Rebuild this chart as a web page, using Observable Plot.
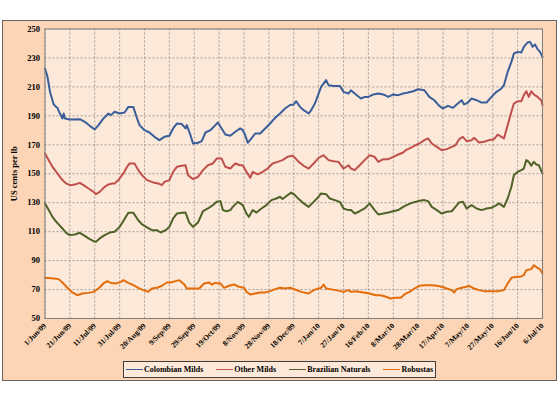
<!DOCTYPE html>
<html>
<head>
<meta charset="utf-8">
<script src="https://cdn.jsdelivr.net/npm/d3@7"></script>
<script src="https://cdn.jsdelivr.net/npm/@observablehq/plot@0.6"></script>
<style>
  html, body { margin: 0; padding: 0; background: #fff; }
  #wrap { position: relative; width: 560px; height: 400px; overflow: hidden; font-family: "Liberation Serif", "Times New Roman", serif; }
  #outer { position: absolute; left: 2px; top: 20px; width: 553px; height: 359px; background: #FBD5B5; border: 1.5px solid #6b6360; }
  #chart { position: absolute; left: 0; top: 0; }
  #legend { position: absolute; left: 123px; top: 361px; width: 311px; height: 15px; border: 1.2px solid #3f3f3f; background: #FDE9D9;
            display: flex; align-items: center; justify-content: center; gap: 13px; font-weight: bold; font-size: 8px; }
  .item { display: flex; align-items: center; white-space: nowrap; }
  .swatch { display: inline-block; width: 17px; height: 1.2px; margin-right: 1px; }
</style>
</head>
<body>
<div id="wrap">
  <div id="outer"></div>
  <div id="chart"></div>
  <div id="legend"></div>
</div>
<script>
// Day offsets from 1 Jun 2009, value in US cents per lb
const seriesNames = ["Colombian Milds", "Other Milds", "Brazilian Naturals", "Robustas"];
const seriesColors = ["#3A5E99", "#C0504D", "#4F6228", "#E46C0A"];

const colombianMilds = [[0,222.7],[2,217],[4,206.6],[7,197.8],[10,195.5],[12,191.6],[14,188.2],[15,191.6],[16,188.2],[20,187.5],[28,187.7],[32,185.9],[36,183.1],[40,180.6],[43,183.6],[47,188.2],[51,191.6],[53,190.5],[56,192.8],[60,191.6],[64,192.3],[67,196.2],[71,196.2],[74,188.2],[76,183.6],[80,180.1],[84,178.5],[88,175.5],[92,173.2],[96,175.5],[100,176.2],[103,181.3],[106,184.7],[110,184.3],[113,181.3],[114,183.6],[117,176.6],[119,170.9],[123,171.4],[126,172.5],[129,178.5],[133,180.1],[137,183.6],[139,185.4],[142,181.3],[145,177.1],[149,176.2],[153,179],[157,181.3],[159,180.1],[161,176.6],[163,171.4],[166,174.4],[169,177.8],[173,177.8],[177,181.3],[181,184.7],[185,188.6],[189,191.6],[193,195.1],[197,197.5],[200,197.9],[202,200.1],[205,196.2],[208,193.9],[212,191.6],[214,193.9],[217,198.5],[220,205.4],[222,210],[226,214.7],[228,211.2],[232,210.7],[237,210.7],[240,206.6],[244,205.4],[246,207.7],[249,205.4],[254,202],[257,203.1],[260,203.1],[264,204.8],[268,205.4],[272,204.8],[276,203.1],[280,204.8],[284,204.3],[288,205.4],[292,206.1],[296,207],[300,208.4],[305,207.7],[309,203.1],[313,200.8],[317,196.9],[320,195.1],[324,196.9],[328,195.5],[331,197.9],[335,200.8],[337,197.9],[340,199.2],[343,202],[347,200.8],[351,199.2],[355,199.2],[359,203.1],[363,206.6],[367,208.9],[369,211.2],[372,220.4],[375,227.3],[377,233.1],[380,234.2],[383,233.8],[385,237.7],[388,240.7],[390,241.1],[392,237.7],[394,239.3],[396,236.1],[398,234.2],[400,230.8]];

const otherMilds = [[0,164],[3,159.4],[6,154.8],[8,152.5],[11,149],[14,145.6],[17,143.3],[20,142.1],[24,142.6],[28,143.7],[31,142.1],[35,139.8],[39,137.5],[41,135.9],[44,137.5],[48,141],[51,142.6],[54,143.3],[56,143.3],[59,145.6],[63,150.2],[66,154.8],[68,157.1],[72,157.1],[75,152.5],[78,149],[82,145.6],[87,144],[91,143.3],[94,142.1],[96,144.4],[100,145.6],[103,151.3],[106,154.8],[110,155.5],[113,155.9],[115,149],[119,146.3],[123,147.9],[127,152.5],[131,155.9],[135,157.1],[138,160.5],[142,160.5],[145,154.8],[149,153.6],[153,157.1],[157,155.9],[159,155.9],[162,151.3],[165,147.2],[167,151.3],[171,149.5],[175,151.3],[179,153.6],[183,157.1],[187,158.2],[191,159.4],[195,161.7],[199,162.4],[201,161],[204,158.2],[208,155.5],[212,153.6],[216,157.1],[220,161],[224,162.8],[228,159.4],[232,158.7],[236,158.2],[240,153.6],[244,155.9],[246,153.6],[249,152.5],[253,155.9],[257,159.4],[261,162.8],[265,161.7],[268,158.2],[272,160.1],[276,160.1],[280,161.7],[284,163.3],[288,164.7],[290,166.3],[294,167.9],[298,169.7],[301,170.9],[305,173.2],[308,174.4],[311,170.9],[315,168.6],[319,166.3],[323,167],[327,168.6],[330,169.7],[333,173.9],[336,175.5],[339,172.5],[343,173.2],[345,174.8],[349,171.6],[353,172.1],[357,173.2],[361,173.9],[364,177.1],[367,175.5],[369,174.4],[372,183.6],[375,192.8],[377,198.5],[380,200.1],[383,200.1],[385,204.3],[387,207],[389,203.1],[391,207],[393,204.8],[396,203.1],[399,200.8],[400,197.4]];

const brazilianNaturals = [[0,129.5],[3,124.9],[6,120.2],[8,117.9],[11,115],[14,112.2],[17,109.2],[20,107.6],[24,108],[28,109.2],[31,107.6],[35,105.3],[39,103.4],[41,103],[44,105.3],[48,107.6],[52,109.4],[56,109.9],[60,113.3],[63,117.3],[67,123],[71,123],[75,117.9],[78,115],[82,112.9],[86,111],[90,111],[93,109.4],[97,111],[100,113.3],[103,119.1],[106,122.5],[110,123],[113,123.2],[116,116.3],[119,113.3],[123,116.3],[127,124.1],[131,126],[135,128.3],[138,130.6],[141,131.1],[143,124.9],[146,124.1],[149,124.9],[151,127.1],[155,130.6],[159,128.3],[162,122.5],[164,120.2],[167,124.9],[170,123.2],[174,126],[178,128.3],[182,131.8],[186,132.9],[189,134.1],[191,132.5],[195,135.2],[198,137],[201,135.2],[204,132.5],[208,129.5],[212,127.1],[216,130.6],[220,134.1],[222,136.4],[226,135.9],[229,132.9],[233,131.8],[237,130.6],[240,126],[244,124.9],[246,124.9],[249,122.5],[253,124.1],[257,126],[261,129.5],[265,124.9],[268,121.9],[272,122.5],[276,123.2],[280,124.1],[284,124.9],[288,127.1],[292,128.8],[296,130.2],[300,131.1],[305,131.8],[308,131.1],[311,127.1],[315,124.9],[319,122.5],[323,123.7],[327,124.1],[329,126],[333,130.2],[336,130.6],[339,126],[343,128.3],[347,126],[351,124.9],[355,126],[359,126.5],[363,128.3],[365,129.5],[369,127.1],[372,132.9],[375,141],[377,149],[380,151.3],[383,152.5],[385,153.6],[387,159.4],[389,158.2],[391,155.5],[393,158.2],[395,156.4],[397,155.9],[400,150.2]];

const robustas = [[0,78.1],[7,77.6],[11,77.2],[14,74.9],[18,71.2],[22,68],[26,66.1],[30,67.3],[35,67.7],[39,68.4],[43,70.7],[47,74.2],[50,75.8],[53,74.6],[57,74.2],[61,75.3],[63,76.5],[67,74.6],[71,73],[75,71.2],[79,69.6],[83,68.4],[86,70.7],[90,71.2],[94,72.6],[98,74.9],[101,74.9],[105,75.8],[108,76.5],[112,73.5],[114,70.7],[118,70.7],[124,70.7],[128,74.2],[132,74.9],[134,73.5],[137,74.6],[141,74.2],[144,71.2],[148,72.6],[152,73.5],[156,71.9],[160,71.2],[162,68.4],[165,66.6],[169,67.3],[173,68],[177,68],[181,68.9],[185,70.3],[189,71.2],[193,70.7],[197,71.2],[201,70],[206,68.4],[212,67.3],[216,69.6],[220,70.7],[222,71.2],[224,73.5],[226,70.7],[229,70.3],[234,69.6],[240,68.4],[244,69.6],[246,68.4],[250,68.9],[256,68],[261,67.3],[266,66.1],[270,66.1],[274,65],[278,63.8],[282,64.3],[286,64.3],[289,66.6],[293,68.4],[297,70.7],[301,72.6],[305,73],[311,73],[315,72.6],[319,71.9],[323,70.7],[327,69.6],[329,68],[331,70.3],[335,71.2],[339,71.9],[341,72.6],[345,70.7],[349,69.6],[353,68.9],[359,68.9],[364,68.9],[369,69.6],[372,74.2],[375,78.1],[379,78.8],[382,78.8],[385,80],[387,83.4],[391,84.1],[393,86.8],[396,85],[398,84.1],[400,81.1]];

const xTickLabels = ["1/Jun/09","21/Jun/09","11/Jul/09","31/Jul/09","20/Aug/09","9/Sep/09","29/Sep/09","19/Oct/09","8/Nov/09","28/Nov/09","18/Dec/09","7/Jan/10","27/Jan/10","16/Feb/10","8/Mar/10","28/Mar/10","17/Apr/10","7/May/10","27/May/10","16/Jun/10","6/Jul/10"];
const yTicks = [50, 70, 90, 110, 130, 150, 170, 190, 210, 230, 250];

const start = Date.UTC(2009, 5, 1);
const toDate = d => new Date(start + d * 864e5);
const parse = d3.utcParse("%d/%b/%y");
const fmt = d3.utcFormat("%-d/%b/%y");
const xTicks = xTickLabels.map(parse);

const allSeries = [colombianMilds, otherMilds, brazilianNaturals, robustas];
const rows = allSeries.flatMap((s, i) => s.map(([d, v]) => ({series: seriesNames[i], date: toDate(d), value: v})));

const chart = Plot.plot({
  width: 560,
  height: 400,
  marginLeft: 44.5,
  marginRight: 18,
  marginTop: 28.5,
  marginBottom: 82,
  style: {background: "transparent", fontFamily: "'Liberation Serif', 'Times New Roman', serif", fontWeight: "bold", fontSize: "8.5px", color: "#000", overflow: "visible"},
  x: {type: "utc", domain: [xTicks[0], xTicks[xTicks.length - 1]]},
  y: {domain: [50, 250]},
  color: {domain: seriesNames, range: seriesColors},
  marks: [
    Plot.frame({fill: "#FDE9D9", stroke: "none"}),
    Plot.gridX(xTicks, {stroke: "#8c8c8c", strokeOpacity: 1, strokeDasharray: "2,2", strokeWidth: 0.8}),
    Plot.gridY(yTicks, {stroke: "#8c8c8c", strokeOpacity: 1, strokeDasharray: "2,2", strokeWidth: 0.8}),
    Plot.axisY(yTicks, {tickSize: 0, tickPadding: 5, label: "US cents per lb", labelAnchor: "center", labelArrow: "none", labelOffset: 34, fontSize: 8.5}),
    Plot.axisX(xTicks, {tickSize: 0, tickPadding: 6, tickRotate: -45, tickFormat: fmt, label: null, fontSize: 7.6}),
    Plot.line(rows, {x: "date", y: "value", z: "series", stroke: "series", strokeWidth: 2, curve: "linear"}),
    Plot.frame({stroke: "#7f7f7f", strokeWidth: 1})
  ]
});
document.getElementById("chart").appendChild(chart);

const legend = document.getElementById("legend");
seriesNames.forEach((name, i) => {
  const item = document.createElement("div");
  item.className = "item";
  const sw = document.createElement("span");
  sw.className = "swatch";
  sw.style.background = seriesColors[i];
  item.appendChild(sw);
  item.appendChild(document.createTextNode(name));
  legend.appendChild(item);
});
</script>
</body>
</html>
